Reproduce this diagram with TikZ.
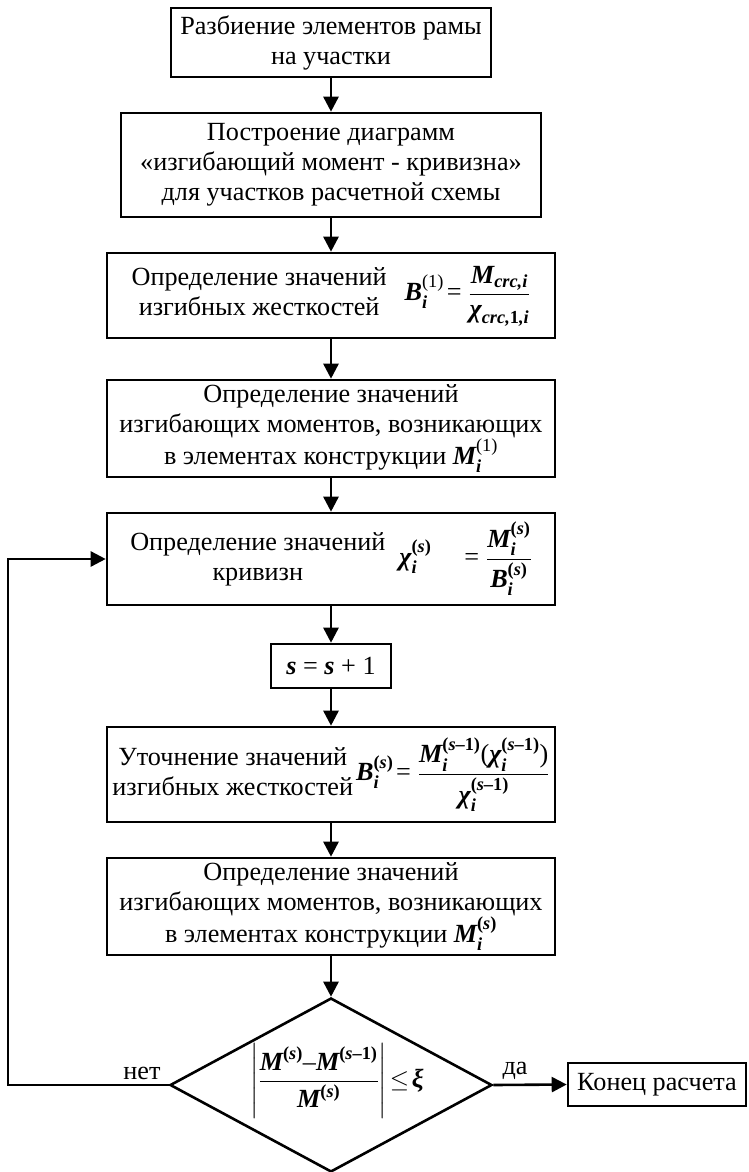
\documentclass[tikz,border=0pt]{standalone}
\usepackage{amsmath}
\usepackage{fontspec}
\setmainfont{Liberation Serif}
\usetikzlibrary{arrows.meta,shapes.geometric}
\newcommand\bi[1]{\text{\bfseries\itshape #1}}
\newcommand\ps{\text{\bfseries(\textit{s})}}
\newcommand\psm{\text{\bfseries(\textit{s}–1)}}
\newcommand\eq{\mathrel{\text{=}}}
\newcommand\txtfont{\fontsize{26.2}{30}\selectfont}
\begin{document}
\begin{tikzpicture}[x=1pt,y=-1pt,
  box/.style={draw, line width=2.6pt, align=center, inner sep=0pt, font=\txtfont},
  lbl/.style={inner sep=0pt, font=\txtfont},
  arr/.style={line width=2.6pt, -{Triangle[length=15pt,width=15pt]}},
]
\useasboundingbox (0,0) rectangle (748,1172);

\node[box, minimum width=320, minimum height=69] (b1) at (331,42.5)
  {Разбиение элементов рамы\\на участки};
\node[box, minimum width=420, minimum height=104] (b2) at (331,165)
  {Построение диаграмм\\«изгибающий момент - кривизна»\\для участков расчетной схемы};
\node[box, minimum width=448, minimum height=85] (b3) at (331,295.5)
  {\begin{tabular}{@{}c@{}}Определение значений\\изгибных жесткостей\end{tabular}\hspace{18pt}$\bi{B}_{\bi{i}}^{\text{(1)}}\!\eq\dfrac{\bi{M}_{\bi{crc,i}}}{\bi{χ}_{\bi{crc,}\text{\bfseries 1}\bi{,i}}}$};
\node[box, minimum width=448, minimum height=97] (b4) at (331,428.5)
  {Определение значений\\изгибающих моментов, возникающих\\в элементах конструкции $\bi{M}_{\bi{i}}^{\text{(1)}}$};
\node[box, minimum width=448, minimum height=92] (b5) at (331,559)
  {\begin{tabular}{@{}c@{}}Определение значений\\кривизн\end{tabular}\hspace{14pt}$\bi{χ}_{\bi{i}}^{\ps}\quad\eq\dfrac{\bi{M}_{\bi{i}}^{\ps}}{\bi{B}_{\bi{i}}^{\ps}}$};
\node[box, minimum width=120, minimum height=44] (b6) at (331,666)
  {\textbf{\textit{s}} = \textbf{\textit{s}} + 1};
\node[box, minimum width=448, minimum height=95] (b7) at (331,774.5)
  {\begin{tabular}{@{}c@{}}Уточнение значений\\изгибных жесткостей\end{tabular}\hspace{3pt}$\bi{B}_{\bi{i}}^{\ps}\!\eq\dfrac{\bi{M}_{\bi{i}}^{\psm}\text{(}\bi{χ}_{\bi{i}}^{\psm}\text{)}}{\bi{χ}_{\bi{i}}^{\psm}}$};
\node[box, minimum width=448, minimum height=97] (b8) at (331,906.5)
  {Определение значений\\изгибающих моментов, возникающих\\в элементах конструкции $\bi{M}_{\bi{i}}^{\ps}$};
\node[draw, diamond, line width=2.6pt, minimum width=322, minimum height=174, inner sep=0pt] (d) at (331,1085) {};
\node[lbl] (dt) at (337,1081)
  {$\left|\dfrac{\bi{M}^{\ps}\text{–}\bi{M}^{\psm}}{\bi{M}^{\ps}}\right|\!\le\!\bi{ξ}$};
\node[box, minimum width=178, minimum height=43] (e) at (657,1084.5) {Конец расчета};
\node[lbl, anchor=south] (no) at (142,1080) {нет};
\node[lbl, anchor=south] (yes) at (515,1080) {да};
\coordinate (lp) at (8,1085);

\draw[arr] (b1) -- (b2);
\draw[arr] (b2) -- (b3);
\draw[arr] (b3) -- (b4);
\draw[arr] (b4) -- (b5);
\draw[arr] (b5) -- (b6);
\draw[arr] (b6) -- (b7);
\draw[arr] (b7) -- (b8);
\draw[arr] (b8) -- (d);
\draw[arr] (d.east) -- (e.west);
\draw[arr] (d.west) -- (lp) |- (b5.west);
\end{tikzpicture}
\end{document}
